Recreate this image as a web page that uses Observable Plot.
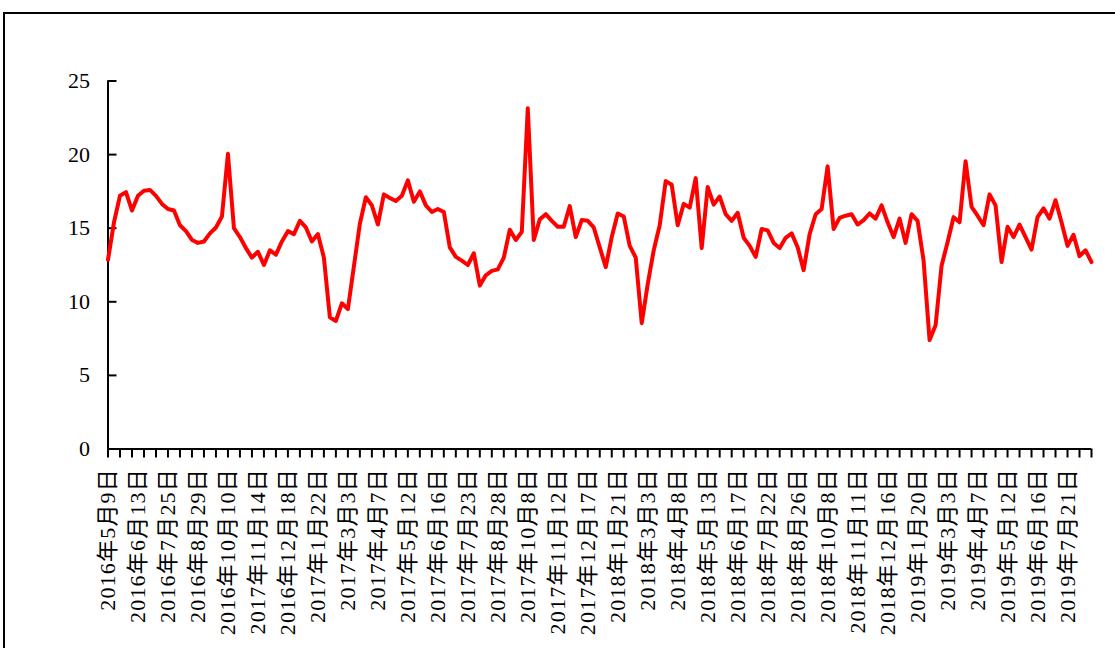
<!DOCTYPE html>
<html>
<head>
<meta charset="utf-8">
<script src="https://cdn.jsdelivr.net/npm/d3@7"></script>
<script src="https://cdn.jsdelivr.net/npm/@observablehq/plot@0.6"></script>
<style>
  html, body { margin: 0; padding: 0; background: #fff; overflow: hidden; }
  #wrap { position: relative; width: 1115px; height: 648px; }
  #frame { position: absolute; left: 3px; top: 12px; width: 1200px; height: 700px;
           border: 2px solid #000; box-sizing: border-box; pointer-events: none; }
  #chart g[aria-label="x-axis tick label"] text { letter-spacing: 1.2px; }
</style>
</head>
<body>
<div id="wrap"><div id="chart"></div><div id="frame"></div></div>
<script>
// weekly values (index 0 = 2016年5月9日)
const values = [
  12.85, 15.4, 17.2, 17.45, 16.2, 17.2, 17.55, 17.6, 17.2, 16.65,
  16.3, 16.2, 15.2, 14.8, 14.2, 14.0, 14.1, 14.65, 15.05, 15.8,
  20.05, 15.0, 14.4, 13.65, 13.0, 13.4, 12.5, 13.5, 13.2, 14.1,
  14.8, 14.6, 15.5, 15.05, 14.1, 14.6, 13.0, 8.95, 8.7, 9.9,
  9.5, 12.4, 15.3, 17.1, 16.55, 15.25, 17.3, 17.05, 16.85, 17.2,
  18.25, 16.8, 17.5, 16.55, 16.1, 16.3, 16.1, 13.7, 13.05, 12.8,
  12.5, 13.3, 11.1, 11.8, 12.1, 12.2, 13.0, 14.9, 14.2, 14.75,
  23.15, 14.2, 15.6, 15.95, 15.5, 15.1, 15.1, 16.5, 14.4, 15.55,
  15.5, 15.05, 13.7, 12.35, 14.4, 16.0, 15.8, 13.8, 13.0, 8.55,
  11.2, 13.5, 15.2, 18.2, 17.95, 15.2, 16.65, 16.4, 18.4, 13.65,
  17.8, 16.6, 17.15, 15.95, 15.5, 16.05, 14.35, 13.8, 13.05, 14.95,
  14.85, 14.0, 13.65, 14.35, 14.65, 13.7, 12.15, 14.6, 15.95, 16.3,
  19.2, 14.95, 15.7, 15.85, 15.95, 15.25, 15.55, 16.0, 15.65, 16.55,
  15.4, 14.4, 15.65, 14.0, 15.95, 15.5, 12.8, 7.4, 8.4, 12.45,
  14.05, 15.75, 15.4, 19.55, 16.45, 15.85, 15.2, 17.3, 16.55, 12.7,
  15.1, 14.4, 15.25, 14.4, 13.55, 15.75, 16.35, 15.65, 16.9, 15.4,
  13.8, 14.55, 13.1, 13.5, 12.7
];

// category labels shown on the axis (every 5th week)
const xLabels = [
  "2016年5月9日", "2016年6月13日", "2016年7月25日", "2016年8月29日", "2016年10月10日",
  "2017年11月14日", "2016年12月18日", "2017年1月22日", "2017年3月3日", "2017年4月7日",
  "2017年5月12日", "2017年6月16日", "2017年7月23日", "2017年8月28日", "2017年10月8日",
  "2017年11月12日", "2017年12月17日", "2018年1月21日", "2018年3月3日", "2018年4月8日",
  "2018年5月13日", "2018年6月17日", "2018年7月22日", "2018年8月26日", "2018年10月8日",
  "2018年11月11日", "2018年12月16日", "2019年1月20日", "2019年3月3日", "2019年4月7日",
  "2019年5月12日", "2019年6月16日", "2019年7月21日"
];

const yTicks = [0, 5, 10, 15, 20, 25];

const labelEvery = 5;
const tickEvery = 2;
const labelIdx = xLabels.map((_, k) => k * labelEvery);
const tickIdx = d3.range(0, values.length, tickEvery);
const data = values.map((v, i) => ({i, v}));

const font = '"Liberation Serif", "Times New Roman", "Noto Sans CJK SC", serif';

const chart = Plot.plot({
  width: 1115,
  height: 648,
  marginLeft: 107.5,
  marginRight: 24,
  marginTop: 80.5,
  marginBottom: 199.5,
  x: {type: "linear", domain: [0, values.length - 1]},
  y: {domain: [0, 25]},
  style: {fontFamily: font, fontSize: "22px", color: "#000", background: "transparent"},
  marks: [
    Plot.axisY({ticks: yTicks, tickSize: 0, tickPadding: 18, label: null, fontSize: 22, tickFormat: d => String(d)}),
    Plot.axisY({ticks: yTicks, tickSize: -9, tickFormat: () => "", label: null, strokeWidth: 2}),
    Plot.axisX({ticks: tickIdx, tickSize: 9, tickFormat: () => "", label: null, strokeWidth: 2}),
    Plot.axisX({ticks: labelIdx, tickSize: 0, tickPadding: 19, tickRotate: -90, fontSize: 22,
                tickFormat: i => xLabels[i / labelEvery], label: null}),
    Plot.ruleX([0], {strokeWidth: 2}),
    Plot.ruleY([0], {strokeWidth: 2}),
    Plot.line(data, {x: "i", y: "v", stroke: "#ff0000", strokeWidth: 4, strokeLinejoin: "round"})
  ]
});
document.getElementById("chart").appendChild(chart);
</script>
</body>
</html>
